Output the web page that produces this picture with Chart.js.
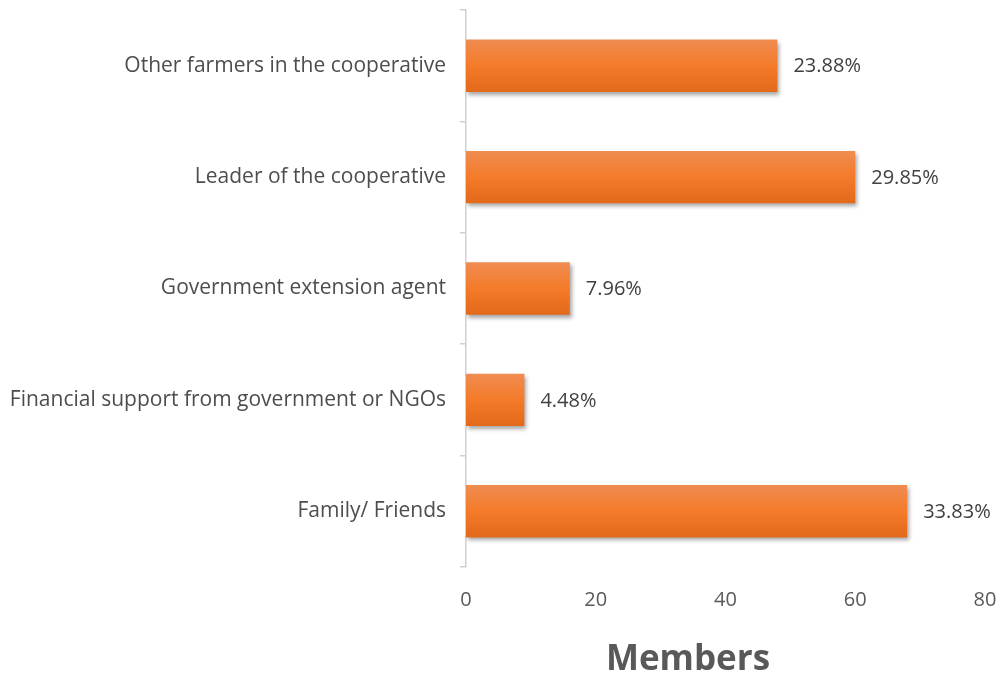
<!DOCTYPE html>
<html>
<head>
<meta charset="utf-8">
<script src="https://cdn.jsdelivr.net/npm/chart.js@4.4.0/dist/chart.umd.min.js"></script>
<style>
html,body{margin:0;padding:0;background:#fff;}
#wrap{width:1000px;height:679px;position:relative;}
</style>
</head>
<body>
<div id="wrap"><canvas id="c" width="1000" height="679"></canvas></div>
<script>
const categories = [
  "Other farmers in the cooperative",
  "Leader of the cooperative",
  "Government extension agent",
  "Financial support from government or NGOs",
  "Family/ Friends"
];
const members = [48, 60, 16, 9, 68];
const percentLabels = ["23.88%", "29.85%", "7.96%", "4.48%", "33.83%"];
const xTicks = [0, 20, 40, 60, 80];
const axisTitle = "Members";

const FONT = "'Open Sans', sans-serif";
const BAR_PCT = 0.47;

function barGradient(ctx) {
  const chart = ctx.chart;
  const y = chart.scales && chart.scales.y;
  if (!chart.chartArea || !y || ctx.dataIndex === undefined) return '#F47B2A';
  const cat = (y.bottom - y.top) / categories.length;
  const h = cat * BAR_PCT;
  const c = y.getPixelForValue(ctx.dataIndex);
  const g = chart.ctx.createLinearGradient(0, c - h / 2, 0, c + h / 2);
  g.addColorStop(0, '#F08C52');
  g.addColorStop(0.5, '#F47B29');
  g.addColorStop(1, '#E3691B');
  return g;
}

const shadowPlugin = {
  id: 'shadow',
  beforeDatasetDraw(chart) {
    const c = chart.ctx;
    c.save();
    c.shadowColor = 'rgba(0,0,0,0.35)';
    c.shadowBlur = 4;
    c.shadowOffsetX = 2;
    c.shadowOffsetY = 3;
  },
  afterDatasetDraw(chart) {
    chart.ctx.restore();
  }
};

const labelPlugin = {
  id: 'valueLabels',
  afterDatasetsDraw(chart) {
    const c = chart.ctx;
    const meta = chart.getDatasetMeta(0);
    c.save();
    c.font = "20px " + FONT;
    c.fillStyle = '#404040';
    c.textAlign = 'left';
    c.textBaseline = 'middle';
    meta.data.forEach((bar, i) => {
      c.fillText(percentLabels[i], bar.x + 16, bar.y + 1);
    });
    // axis title
    c.font = "bold 35px " + FONT;
    c.fillStyle = '#595959';
    c.textAlign = 'center';
    c.textBaseline = 'alphabetic';
    c.fillText(axisTitle, 688, 670);
    c.restore();
  }
};

new Chart(document.getElementById('c'), {
  type: 'bar',
  data: {
    labels: categories,
    datasets: [{
      data: members,
      backgroundColor: barGradient,
      borderWidth: 0,
      barPercentage: BAR_PCT,
      categoryPercentage: 1
    }]
  },
  options: {
    indexAxis: 'y',
    responsive: false,
    animation: false,
    layout: { padding: { top: 10, right: 0, bottom: 0, left: 0 } },
    plugins: { legend: { display: false }, tooltip: { enabled: false } },
    scales: {
      x: {
        min: 0, max: 80,
        afterBuildTicks: s => { s.ticks = xTicks.map(v => ({ value: v })); },
        afterFit: s => { s.height = 112; s.paddingLeft = 0; s.paddingRight = 15; },
        grid: { display: false, drawTicks: false },
        border: { display: false },
        ticks: { color: '#595959', font: { family: FONT, size: 20 }, padding: 21 },
        title: { display: false }
      },
      y: {
        afterFit: s => { s.width = 466; s.paddingTop = 0; s.paddingBottom = 0; },
        grid: { display: true, drawOnChartArea: false, drawTicks: true, tickLength: 6, color: '#D0D0D0', lineWidth: 1.5, offset: true },
        border: { display: true, color: '#D0D0D0', width: 1.5 },
        ticks: { color: '#4d4d4d', font: { family: FONT, size: 21 }, padding: 14 }
      }
    }
  },
  plugins: [shadowPlugin, labelPlugin]
});
</script>
</body>
</html>
